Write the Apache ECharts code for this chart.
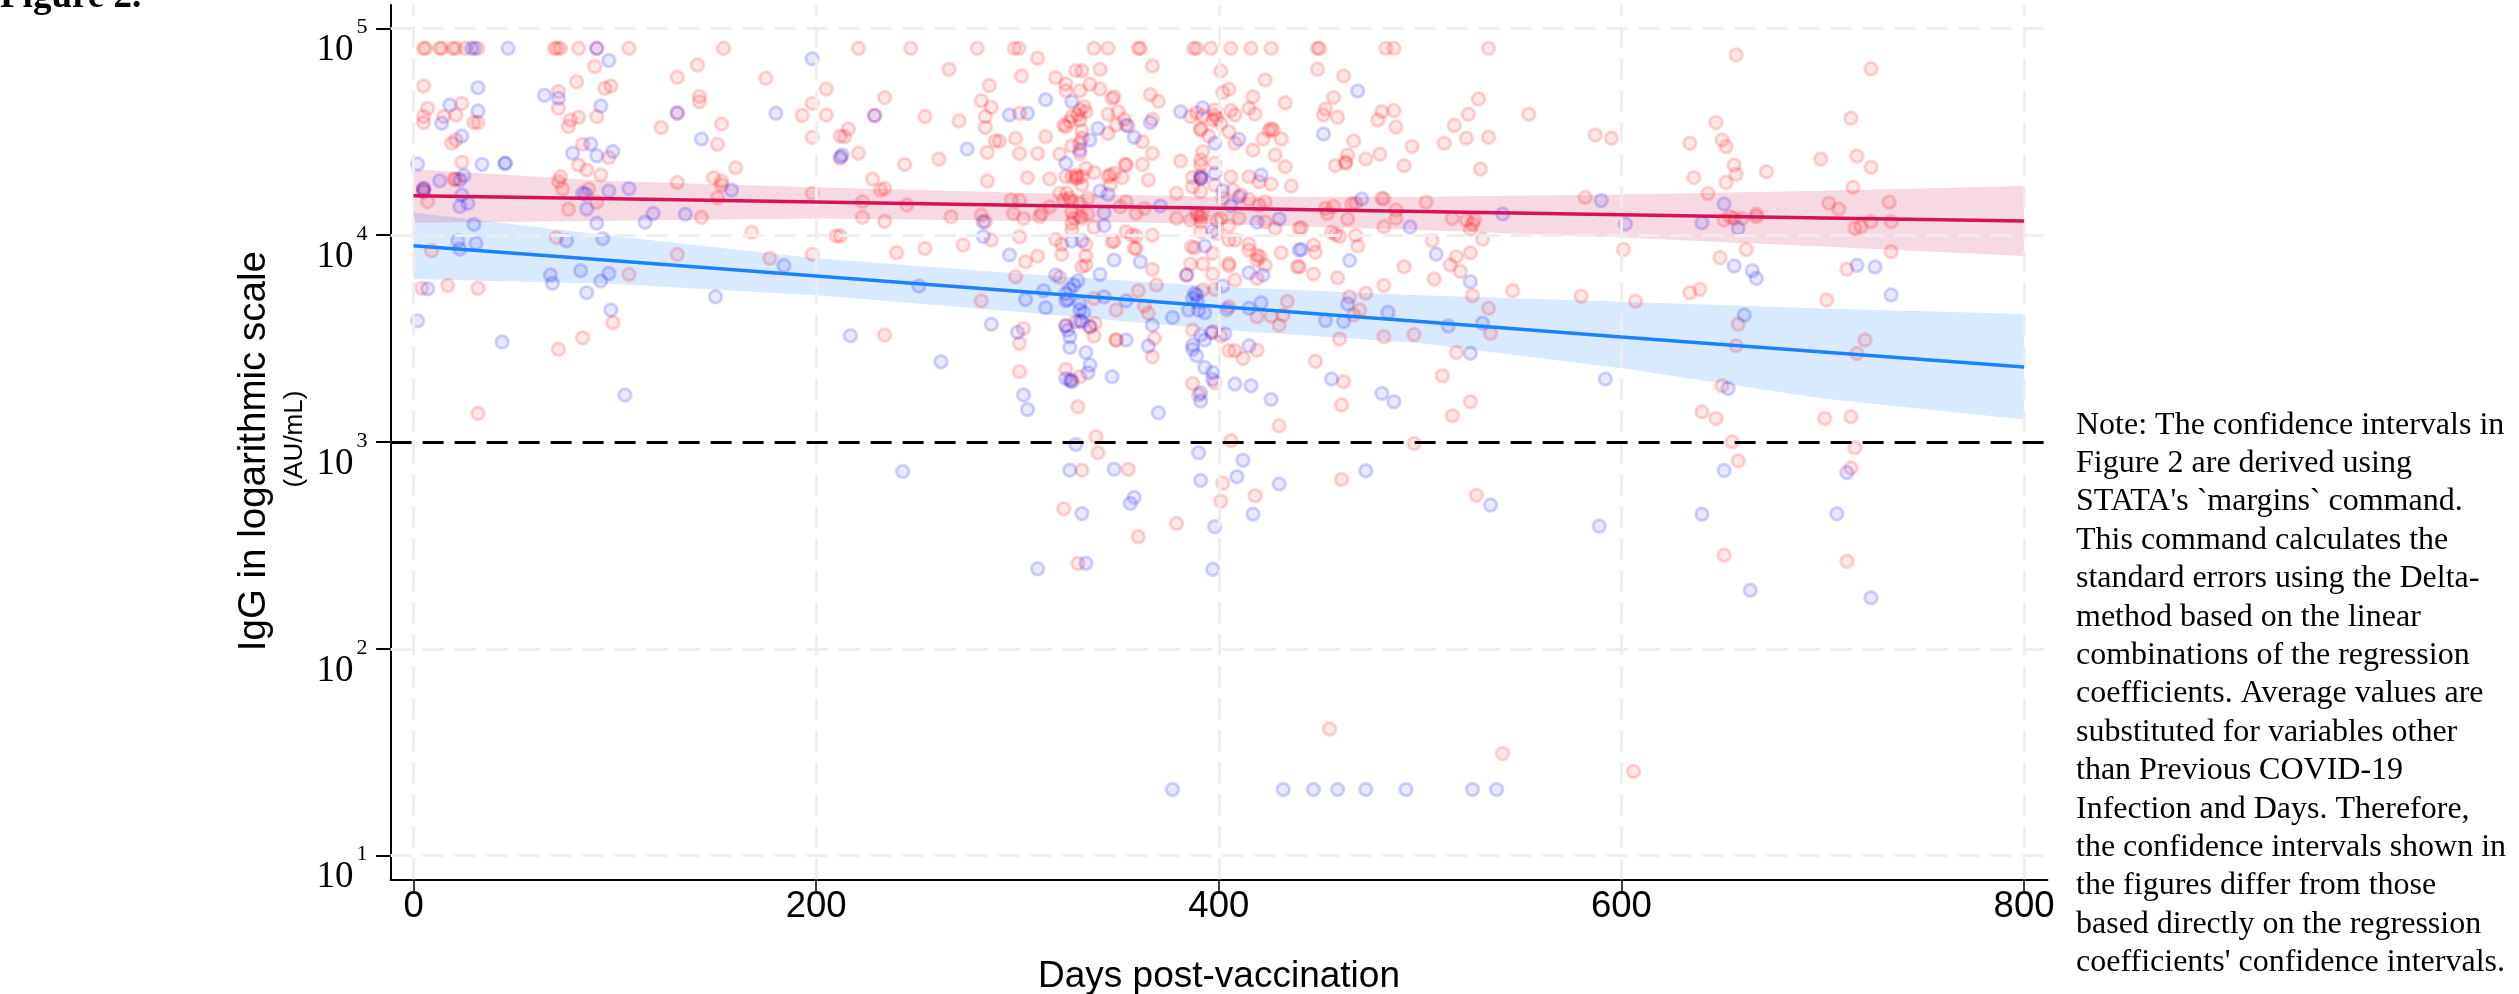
<!DOCTYPE html>
<html><head><meta charset="utf-8">
<style>html,body{margin:0;padding:0;background:#fff}#c{width:2519px;height:994px}</style>
<script src="https://cdn.jsdelivr.net/npm/echarts@6/dist/echarts.min.js"></script>
</head><body><div id="c"></div>
<script>
const redSaturated = [5,6,13,14,19.5,21,25.6,32,70,71.4,73,82,91,107,154,221,247,280,298.5,300.7,338,345,360,361,387.5,389,396,406,416,426,449,450,483,487,534];
const blueSaturated = [28.8,30.4,47,91];
const saturatedLog = 4.903;
const redEarly = [[5,4.721],[7,4.613],[5,4.573],[5,4.544],[15,4.573],[21,4.581],[24,4.637],[30,4.544],[32,4.544],[19,4.444],[21,4.46],[24,4.352],[21,4.27],[20,4.27],[5,4.226],[5,4.21],[7,4.162],[72,4.694],[72,4.613],[81,4.742],[90,4.815],[95,4.71],[98,4.721],[91,4.573],[82,4.57],[78,4.557],[77,4.525],[84,4.439],[97,4.375],[82,4.339],[86,4.315],[93,4.291],[73,4.283],[72,4.259],[74,4.223],[87,4.223],[91,4.159],[77,4.125],[71,3.988],[9,3.925],[17,3.756],[4,3.743],[32,3.743],[107,3.81],[99,3.577],[84,3.504],[72,3.448],[32,3.138],[131,4.763],[141,4.823],[175,4.758],[205,4.707],[142,4.67],[142,4.645],[131,4.589],[123,4.52],[153,4.537],[151,4.439],[160,4.326],[198,4.637],[193,4.578],[205,4.581],[198,4.473],[212,4.479],[131,4.255],[149,4.278],[153,4.262],[153,4.242],[151,4.181],[143,4.086],[168,4.014],[198,4.202],[210,3.996],[131,3.907],[177,3.888],[198,3.907],[212,4.371]];
const redMiddle = [[310,4.855],[266,4.802],[286,4.723],[234,4.665],[282,4.65],[287,4.618],[284,4.573],[284,4.521],[254,4.573],[271,4.552],[216,4.513],[214,4.476],[221,4.396],[244,4.342],[261,4.368],[289,4.455],[285,4.4],[228,4.271],[234,4.226],[232,4.218],[285,4.262],[223,4.162],[245,4.146],[223,4.086],[234,4.067],[267,4.089],[282,4.097],[284,4.065],[212,3.996],[287,3.976],[273,3.952],[254,3.935],[240,3.915],[282,3.682],[234,3.517],[229,4.578]];
const redClusterA = [[329,4.795],[332,4.795],[341,4.802],[367,4.818],[302,4.769],[319,4.761],[324,4.731],[324,4.698],[331,4.698],[336,4.729],[341,4.706],[348,4.669],[347,4.661],[366,4.679],[370,4.647],[333,4.621],[334,4.597],[331,4.605],[330,4.581],[327,4.573],[326,4.549],[323,4.532],[324,4.524],[331,4.557],[332,4.505],[345,4.584],[350,4.597],[353,4.56],[349,4.532],[355,4.527],[345,4.492],[367,4.56],[301,4.589],[299,4.468],[314,4.476],[291,4.455],[301,4.395],[310,4.395],[321,4.392],[327,4.431],[331,4.444],[332,4.468],[331,4.395],[362,4.452],[367,4.395],[353.5,4.342],[354,4.339],[362,4.342],[305,4.278],[316,4.271],[324,4.283],[327,4.283],[329,4.274],[330,4.279],[332,4.283],[329,4.29],[334,4.323],[338,4.303],[346,4.291],[345,4.283],[348,4.299],[352,4.278],[365,4.266],[332,4.242],[346,4.242],[321,4.202],[324.5,4.202],[326,4.178],[323,4.17],[327,4.162],[335,4.178],[331,4.153],[354,4.162],[351,4.137],[363,4.129],[379,4.202],[297,4.17],[301,4.167],[316,4.137],[298,4.105],[303,4.081],[311,4.089],[312,4.105],[327,4.113],[328,4.081],[331,4.089],[332,4.081],[335,4.102],[359,4.105],[327,4.057],[327,4.025],[338,4.038],[354,4.017],[357,4],[359,3.996],[367,4],[301,3.992],[319,3.979],[322,3.955],[322,3.907],[348,3.971],[347,3.968],[358,3.936],[359,3.936],[334,3.955],[334,3.899],[310,3.899],[304,3.871]];
const redClusterB = [[401,4.793],[423,4.75],[405,4.705],[402,4.69],[417,4.669],[433,4.64],[415,4.613],[418,4.586],[406,4.602],[408,4.581],[386,4.573],[389,4.592],[392,4.576],[398,4.605],[398,4.581],[397,4.557],[399,4.565],[401,4.54],[405,4.5],[391,4.516],[391,4.508],[395,4.479],[408,4.444],[426,4.516],[427,4.508],[425,4.505],[431,4.465],[422,4.465],[417,4.411],[428,4.387],[433,4.331],[392,4.403],[391,4.363],[391,4.339],[381,4.358],[398,4.347],[415,4.282],[420,4.258],[426,4.247],[436,4.237],[406,4.282],[387,4.279],[391,4.29],[391.5,4.274],[387,4.234],[391,4.21],[398,4.242],[407,4.218],[411,4.194],[402,4.178],[415,4.173],[423,4.162],[420,4.145],[379,4.081],[386,4.073],[390,4.097],[391,4.089],[392,4.105],[389,4.105],[391,4.065],[399,4.073],[401,4.081],[410,4.081],[405,4.046],[391,4.017],[423,4.065],[428,4.033],[399,4.008],[405,3.976],[408,3.976],[386.5,3.944],[388,3.939],[415,3.957],[415,3.928],[419,3.904],[420.5,3.896],[431,3.915],[397,3.912],[440,4.033],[405,3.863]];
const redClusterLow = [[332,3.847],[334,3.855],[367,3.834],[386,3.86],[392,3.86],[405,3.852],[397,3.812],[423,3.855],[419,3.88],[439,3.847],[408,3.783],[299,3.799],[321,3.796],[369,3.759],[419,3.791],[392,3.735],[398,3.738],[360,3.731],[338,3.694],[349,3.638],[363,3.657],[365,3.622],[405,3.654],[419,3.606],[426,3.609],[432,3.614],[434,3.68],[430,3.565],[303,3.549],[324,3.562],[329,3.581],[338.5,3.573],[336,3.557],[338,3.512],[301,3.477],[349,3.493],[349,3.493],[368,3.501],[367,3.412],[387,3.541],[397,3.533],[401,3.512],[405,3.441],[408,3.441],[412,3.404],[419,3.444],[301,3.34],[324,3.352],[331,3.315],[327,3.299],[387,3.283],[398,3.286],[390,3.227],[330,3.17],[430,3.078],[339,3.025],[406,3.006],[340,2.948],[384,3.807]];
const redLate = [[449,4.802],[462,4.769],[457,4.666],[453,4.61],[452,4.581],[459,4.57],[479,4.557],[481,4.597],[487,4.602],[488,4.523],[517,4.531],[524,4.584],[529,4.658],[554,4.584],[512,4.444],[523,4.468],[534,4.473],[587,4.484],[595,4.468],[467,4.455],[496,4.428],[464,4.388],[463,4.352],[463,4.347],[473,4.368],[480,4.391],[458,4.336],[492,4.336],[530,4.32],[582,4.183],[481,4.178],[482,4.175],[503,4.159],[466,4.15],[468,4.154],[453,4.13],[457,4.138],[454,4.105],[464,4.078],[488,4.122],[488,4.081],[516,4.081],[523,4.073],[527,4.073],[526,4.054],[525,4.03],[482,4.041],[441,4.036],[456,4.014],[458,4.004],[460,3.993],[468,3.998],[506,3.973],[531,3.98],[447,3.952],[448,3.917],[469,3.947],[518,3.896],[525,3.915],[601,3.931],[440,3.847],[447,3.812],[459,3.794],[492,3.847],[515,3.856],[520,3.824],[507,3.788],[482,3.756],[473,3.719],[546,3.731],[526,3.707],[580,3.705],[607,3.68],[465,3.702],[470,3.638],[467,3.614],[534,3.646],[535,3.525],[497,3.52],[482,3.509],[460,3.498],[518,3.433],[448,3.39],[462,3.291],[511,3.32],[525,3.195],[461,3.179],[516,3.127],[497,2.993],[461,2.819],[528,2.743],[418,2.74],[401,2.714],[402,2.801],[355,2.867],[332,2.864]];
const redFar = [[657,4.871],[724,4.804],[714,4.565],[647,4.544],[634,4.444],[650,4.46],[652,4.428],[656,4.339],[657,4.294],[672,4.307],[636,4.278],[652,4.254],[699,4.368],[717,4.383],[724,4.328],[715,4.231],[643,4.201],[703,4.154],[708,4.126],[733,4.159],[651,4.073],[654,4.089],[656,4.081],[660,4.081],[667,4.101],[667,4.089],[716,4.033],[719,4.041],[724,4.065],[734,4.065],[662,3.931],[649,3.891],[734,3.92],[712,3.835],[634,3.722],[639,3.738],[702,3.686],[658,3.569],[657,3.465],[721,3.493],[717,3.428],[650,3.272],[640,3.146],[647,3.114],[701,3.114],[714,3.122],[655,3.001],[716,2.972],[658,2.909],[714,2.874],[651,2.453],[712,2.424]];
const redBottom = [[323,2.677],[379,2.606],[360,2.542],[330,2.413],[455,1.613],[541,1.494],[606,1.407]];

const blueEarly = [[97,4.844],[32,4.713],[65,4.676],[72,4.662],[18,4.629],[32,4.6],[93,4.624],[14,4.541],[24,4.479],[88,4.441],[79,4.396],[91,4.384],[99,4.404],[2,4.344],[34,4.342],[45.5,4.347],[45.5,4.347],[25,4.288],[23,4.267],[13,4.263],[5,4.226],[5,4.215],[24,4.194],[27,4.154],[23,4.138],[84,4.202],[85.5,4.199],[97,4.213],[107,4.226],[86,4.126],[91,4.057],[30,4.052],[22,3.973],[31,3.96],[23,3.933],[76,3.973],[94,3.983],[83,3.828],[68,3.807],[69,3.767],[97,3.815],[93,3.778],[86,3.722],[7,3.741],[98,3.638],[2,3.586],[44,3.483],[105,3.227],[198,4.853],[131,4.592],[180,4.589],[143,4.465],[115,4.062],[119,4.105],[135,4.101],[158,4.218],[184,3.852],[150,3.702],[212,4.379]];
const blueMiddle = [[229,4.578],[275,4.416],[283,4.065],[283,3.993],[251,3.754],[287,3.569],[262,3.388],[217,3.514],[213,4.387],[243,2.857]];
const blueClusterA = [[314,4.655],[296,4.581],[305,4.589],[327,4.645],[340,4.516],[336,4.46],[331,4.411],[324,4.347],[354,4.532],[358,4.473],[366,4.544],[341,4.213],[345,4.197],[371,4.141],[343,4.108],[343,4.046],[327,3.971],[332,3.973],[296,3.904],[348,3.88],[361,3.871],[319,3.807],[341,3.81],[330,3.78],[328,3.759],[326,3.738],[313,3.731],[324,3.718],[325,3.689],[324,3.683],[304,3.689],[343,3.702],[354,3.683],[314,3.649],[331,3.67],[331,3.638],[333,3.625],[331,3.586],[332,3.581],[324,3.562],[336,3.557],[325,3.541],[326,3.509],[326,3.457],[334,3.433],[336,3.372],[335,3.335],[300,3.53],[324,3.307],[326,3.299],[327,3.291],[347,3.315],[303,3.227],[305,3.157],[370,3.141],[354,3.493],[365,3.464],[367,3.565],[377,3.602]];
const blueClusterB = [[381,4.597],[392,4.616],[398,4.444],[410,4.463],[391,4.279],[391,4.274],[398,4.298],[421,4.291],[402,4.215],[410,4.186],[406,4.141],[419,4.062],[430,4.078],[397,4.021],[393,3.947],[440,3.928],[384,3.807],[402,3.754],[389,3.71],[387,3.694],[389.3,3.678],[388,3.718],[385,3.638],[390,3.638],[393,3.625],[404,3.641],[415,3.646],[421,3.673],[415,3.818],[422,3.807],[403,3.522],[396.5,3.528],[391,3.517],[393,3.493],[387,3.468],[387,3.448],[389,3.417],[415,3.465],[393,3.36],[397,3.336],[397,3.302],[408,3.28],[416,3.272],[391,3.238],[391,3.198],[426,3.206],[329,2.988],[390,2.948],[412,2.912]];
const blueLate = [[469,4.697],[452,4.489],[508,3.908],[441,3.931],[471,4.175],[495,4.039],[541,4.102],[602,4.054],[590,4.167],[465,3.877],[525,3.775],[464,3.667],[484,3.627],[453,3.587],[462,3.582],[514,3.561],[531,3.574],[525,3.429],[592,3.304],[456,3.304],[481,3.235],[487,3.195],[473,2.861],[430,2.797],[409,2.832],[391,2.814],[326,2.864],[348,2.868]];
const blueFar = [[651,4.15],[640,4.06],[658,4.033],[656,3.851],[665,3.828],[667,3.791],[717,3.854],[726,3.846],[734,3.711],[661,3.614],[653,3.259],[651,2.862],[712,2.852],[640,2.651],[707,2.653],[664,2.283],[724,2.247]];
const blueBottom = [[332,2.654],[356,2.703],[358,2.732],[398,2.59],[417,2.651],[535,2.695],[589,2.593],[310,2.387],[334,2.414],[397,2.385]];
const blueFloorDays = [377,432,447,459,473,493,526,538];
const floorLog = 1.32;

// Fitted lines and confidence bands, log10 scale
const fitDays = [0,100,200,300,400,500,600,700,800];
const redFit = [4.191,4.176,4.160,4.145,4.130,4.114,4.099,4.083,4.068];
const redUpper = [4.318,4.26,4.231,4.205,4.186,4.186,4.197,4.215,4.238];
const redLower = [4.060,4.07,4.081,4.07,4.054,4.025,3.989,3.945,3.899];
const blueFit = [3.949,3.876,3.802,3.729,3.655,3.582,3.508,3.435,3.362];
const blueUpper = [4.109,3.995,3.888,3.815,3.751,3.71,3.678,3.645,3.619];
const blueLower = [3.788,3.764,3.71,3.63,3.544,3.477,3.356,3.21,3.109];

const xTicks = [0,200,400,600,800];
const yTicks = [10,100,1000,10000,100000];
const threshold = 1000;
const xTitle = 'Days post-vaccination';
const yTitle = 'IgG in logarithmic scale';
const yUnit = '(AU/mL)';
const figureLabel = 'Figure 2.';
const noteLines = ["Note: The confidence intervals in","Figure 2 are derived using","STATA's `margins` command.","This command calculates the","standard errors using the Delta-","method based on the linear","combinations of the regression","coefficients. Average values are","substituted for variables other","than Previous COVID-19","Infection and Days. Therefore,","the confidence intervals shown in","the figures differ from those","based directly on the regression","coefficients' confidence intervals."];

const toVal = ([d,l]) => [d, Math.pow(10,l)];
const redAll = [].concat(redSaturated.map(d=>[d,saturatedLog]),redEarly,redMiddle,redClusterA,redClusterB,redClusterLow,redLate,redFar,redBottom).map(toVal);
const blueAll = [].concat(blueSaturated.map(d=>[d,saturatedLog]),blueEarly,blueMiddle,blueClusterA,blueClusterB,blueLate,blueFar,blueBottom,blueFloorDays.map(d=>[d,floorLog])).map(toVal);

function band(name,up,lo,color){
  const data = fitDays.map((d,i)=>[d,Math.pow(10,lo[i]),Math.pow(10,up[i])]);
  return {type:'custom',name,z:2,silent:true,data,encode:{x:0,y:[1,2]},
    renderItem(params,api){
      if(params.dataIndex!==0) return null;
      const pts=[];
      data.forEach(r=>pts.push(api.coord([r[0],r[2]])));
      data.slice().reverse().forEach(r=>pts.push(api.coord([r[0],r[1]])));
      return {type:'polygon',shape:{points:pts},style:{fill:color}};
    }};
}
function fitLine(name,vals,color){
  return {type:'line',name,z:5,silent:true,symbol:'none',lineStyle:{color,width:3.5},
    data:fitDays.map((d,i)=>[d,Math.pow(10,vals[i])])};
}
function dots(name,data,rgb){
  return {type:'scatter',name,z:4,silent:true,symbol:'circle',symbolSize:12.5,data,
    itemStyle:{color:`rgba(${rgb},0.09)`,borderColor:`rgba(${rgb},0.17)`,borderWidth:3,opacity:1}};
}
const serif='"Liberation Serif"', sans='"Liberation Sans"';
const chart = echarts.init(document.getElementById('c'),null,{renderer:'canvas'});
chart.setOption({
  animation:false,
  backgroundColor:'#fff',
  grid:{left:390.6,top:5,width:1656.8,height:874.3,containLabel:false,outerBoundsMode:'none'},
  xAxis:{type:'value',min:-11.4,max:811.6,
    name:xTitle,nameLocation:'middle',nameGap:79,
    nameTextStyle:{fontFamily:sans,fontSize:37,color:'#000'},
    axisLine:{onZero:false,lineStyle:{color:'#000',width:2}},
    axisTick:{customValues:xTicks,length:12,lineStyle:{color:'#000',width:1.5}},
    axisLabel:{customValues:xTicks,margin:9,fontFamily:sans,fontSize:36.5,color:'#000'},
    splitLine:{show:false}},
  yAxis:{type:'log',logBase:10,min:7.69,max:129600,
    name:yTitle,nameLocation:'middle',nameGap:117,
    nameTextStyle:{fontFamily:sans,fontSize:38.5,color:'#000',padding:[0,18,0,0]},
    axisLine:{onZero:false,lineStyle:{color:'#000',width:2}},
    axisTick:{customValues:yTicks,length:14.5,lineStyle:{color:'#000',width:2}},
    axisLabel:{customValues:yTicks,margin:23,color:'#000',
      formatter:v=>`{b|10}{s|${Math.round(Math.log10(v))}}`,
      rich:{b:{fontFamily:serif,fontSize:37,padding:[44,0,0,0]},s:{fontFamily:serif,fontSize:22,padding:[0,0,2,3]}}},
    splitLine:{show:false},minorTick:{show:false}},
  series:[
    {type:'line',name:'grid',z:1,silent:true,data:[],
      markLine:{silent:true,symbol:'none',label:{show:false},animation:false,
        lineStyle:{color:'#eeeeee',type:[21,11],width:3},
        data:[...xTicks.map(v=>({xAxis:v})),...yTicks.map(v=>({yAxis:v}))]}},
    band('Band no infection',blueUpper,blueLower,'rgba(30,125,250,0.17)'),
    band('Band infection',redUpper,redLower,'rgba(205,30,90,0.17)'),
    {type:'line',name:'threshold',z:3,silent:true,data:[],
      markLine:{silent:true,symbol:'none',label:{show:false},animation:false,
        lineStyle:{color:'#000',type:[21,11],width:3},data:[{yAxis:threshold}]}},
    dots('Previous infection',redAll,'255,0,0'),
    dots('No previous infection',blueAll,'0,0,255'),
    fitLine('Fit infection',redFit,'#d6125a'),
    fitLine('Fit no infection',blueFit,'#1a82ff')
  ],
  graphic:[
    {type:'text',x:295,y:439,rotation:Math.PI/2,silent:true,
      style:{text:yUnit,fontFamily:sans,fontSize:26,fill:'#000',textAlign:'center',textVerticalAlign:'middle'}},
    {type:'text',x:0,y:-21,silent:true,
      style:{text:figureLabel,fontFamily:serif,fontWeight:'bold',fontSize:37,fill:'#000'}},
    {type:'text',x:2076,y:406,silent:true,
      style:{text:noteLines.join('\n'),fontFamily:serif,fontSize:32,lineHeight:38.4,fill:'#000'}}
  ]
});
</script></body></html>
